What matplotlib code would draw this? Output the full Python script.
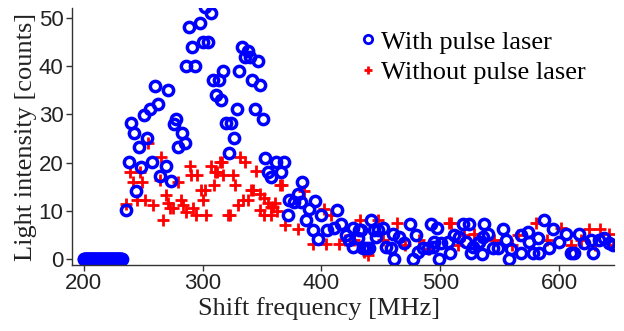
import numpy as np
import matplotlib
matplotlib.use("Agg")
import matplotlib.pyplot as plt

# data (frequency in MHz, counts)
zero_freq = [200 + 0.5 * i for i in range(65)]
zero_counts = [0] * len(zero_freq)

with_freq = [235.3, 238.1, 240.1, 242.0, 244.3, 246.5, 248.5, 250.7, 253.2, 255.5,
             257.7, 260.2, 262.5, 263.9, 268.9, 271.1, 273.7, 275.6, 277.3, 279.6,
             282.6, 284.9, 286.3, 288.5, 291.3, 293.5, 297.5, 300.5, 301.7, 304.5,
             306.7, 308.7, 310.9, 313.7, 315.7, 317.6, 319.9, 322.1, 324.1, 326.6,
             328.8, 330.5, 332.8, 335.9, 338.1, 340.1, 341.5, 344.2, 346.5, 348.5,
             350.7, 352.9, 354.9, 357.7, 361.9, 366.1, 368.1, 371.7, 373.1, 377.3,
             380.1, 382.9, 384.0, 386.6, 389.9, 392.7, 394.5, 397.4, 399.7, 404.5,
             410.5, 413.0, 416.5, 420.7, 423.5, 426.3, 426.8, 430.5, 431.9, 433.5,
             434.7, 437.6, 440.3, 441.8, 444.5, 445.9, 447.3, 451.5, 454.3, 458.5,
             459.9, 461.3, 465.5, 469.7, 474.8, 476.7, 479.6, 480.9, 485.1, 489.3,
             492.1, 493.5, 494.9, 496.9, 499.2, 500.6, 506.1, 508.1, 511.8, 516.0,
             519.0, 521.6, 524.4, 525.8, 527.1, 531.3, 532.8, 535.0, 535.6, 537.0,
             539.8, 543.9, 548.2, 552.4, 555.2, 557.4, 559.4, 567.8, 567.8, 573.4,
             574.8, 577.5, 581.8, 583.2, 587.4, 591.6, 595.0, 600.0, 605.6, 609.8,
             612.6, 616.8, 621.0, 626.6, 628.0, 633.6, 637.8, 642.0, 645.0]
with_counts = [10.2, 20.1, 28.2, 26.1, 14.1, 23.3, 19.2, 29.9, 25.2, 31.2,
               20.1, 36.0, 32.2, 17.2, 19.4, 35.1, 16.2, 28.0, 29.1, 23.2,
               26.1, 24.1, 40.0, 48.1, 44.0, 40.0, 49.0, 45.0, 52.2, 45.0,
               51.0, 37.1, 34.0, 37.1, 33.1, 39.1, 28.2, 22.1, 28.2, 25.1,
               31.1, 39.1, 44.0, 42.0, 43.2, 42.0, 37.1, 31.1, 41.1, 36.1,
               29.1, 21.0, 18.1, 17.1, 20.2, 18.1, 20.2, 9.1, 12.2, 11.9,
               13.6, 11.9, 16.0, 8.1, 10.4, 6.1, 12.0, 4.1, 9.1, 6.1,
               6.4, 10.1, 7.3, 5.1, 3.9, 2.6, 6.4, 4.3, 6.0, 6.0,
               2.2, 2.2, 2.2, 8.2, 6.0, 4.6, 6.0, 6.4, 2.6, 2.2,
               5.3, 0.1, 4.6, 3.3, 7.3, 0.1, 5.1, 1.5, 2.2, 2.2,
               7.3, 2.6, 3.6, 6.4, 0.1, 3.3, 3.6, 1.2, 5.0, 4.6,
               7.3, 3.6, 7.3, 1.2, 2.6, 3.3, 3.6, 1.0, 4.6, 7.3,
               5.2, 2.2, 2.2, 6.2, 3.9, 0.1, 2.0, 1.2, 5.0, 5.7,
               3.6, 1.2, 4.3, 1.2, 8.2, 2.2, 6.2, 3.6, 5.3, 1.2,
               1.2, 5.3, 3.3, 3.9, 1.2, 3.9, 4.3, 3.3, 3.0]

without_freq = [235.3, 238.7, 241.4, 244.8, 247.6, 249.3, 251.3, 254.0, 258.2, 263.9,
                265.3, 266.6, 269.5, 270.8, 272.3, 275.0, 279.2, 282.1, 283.5, 285.7,
                289.1, 290.5, 291.7, 294.1, 295.2, 298.9, 300.2, 301.7, 303.1, 306.7,
                309.2, 310.1, 312.4, 314.3, 316.6, 317.6, 321.3, 323.3, 325.5, 326.9,
                329.7, 331.1, 333.9, 335.3, 338.1, 340.9, 342.3, 345.1, 347.9, 348.7,
                351.3, 352.0, 354.9, 357.7, 357.7, 359.0, 360.5, 362.4, 364.7, 367.0,
                368.9, 380.1, 384.9, 392.7, 402.5, 403.9, 408.1, 414.8, 420.0, 427.0,
                432.8, 436.1, 438.9, 447.3, 452.0, 463.3, 470.0, 482.0, 490.0, 507.6,
                509.0, 515.0, 520.0, 528.6, 545.0, 560.0, 565.0, 580.4, 590.0, 601.4,
                610.0, 618.0, 625.2, 630.0, 634.2, 641.4, 645.0]
without_counts = [11.4, 18.1, 16.0, 12.2, 18.1, 16.0, 12.2, 24.0, 11.2, 16.4,
                  21.2, 8.1, 13.3, 11.6, 10.5, 10.5, 16.0, 12.2, 11.2, 9.8,
                  19.4, 17.4, 10.5, 9.1, 17.4, 14.3, 12.2, 14.3, 9.1, 19.4,
                  15.4, 18.1, 18.1, 20.2, 20.2, 17.4, 9.1, 9.1, 17.4, 15.4,
                  11.2, 21.2, 12.2, 20.2, 12.2, 14.3, 14.3, 18.3, 10.2, 13.5,
                  12.6, 9.1, 11.6, 10.9, 9.1, 10.9, 11.6, 10.0, 15.4, 15.4,
                  7.1, 6.2, 14.2, 3.1, 10.3, 3.1, 9.1, 3.1, 4.0, 4.0,
                  8.2, 1.5, 0.8, 8.1, 4.0, 7.4, 3.0, 4.0, 2.0, 7.4,
                  7.4, 3.0, 5.0, 5.3, 4.0, 3.0, 5.0, 7.4, 4.0, 6.4,
                  3.0, 4.0, 6.2, 3.0, 6.2, 5.3, 3.0]

serif = ["Liberation Serif", "DejaVu Serif"]
tick_font = ["Liberation Sans Narrow", "Liberation Sans", "DejaVu Sans"]

fig = plt.figure(figsize=(6.24, 3.31), dpi=100)
ax = fig.add_axes([0.115, 0.199, 0.869, 0.777])

circ = dict(mfc="none", mec="#0000ff", ms=7.4, mew=2.5)

# readings below threshold at the start of the sweep
ax.plot(zero_freq, zero_counts, "o", **circ)
ax.plot(without_freq, without_counts, "+", color="#ff0000", ms=8, mew=2.0,
        label="Without pulse laser")
ax.plot(with_freq, with_counts, "o", label="With pulse laser", **circ)

ax.set_xlim(190, 646)
ax.set_ylim(-1.25, 52.1)
ax.set_xticks([200, 300, 400, 500, 600])
ax.set_yticks([0, 10, 20, 30, 40, 50])

for s in ["top", "right"]:
    ax.spines[s].set_visible(False)
for s in ["left", "bottom"]:
    ax.spines[s].set_color("#333333")
    ax.spines[s].set_linewidth(1.0)

ax.tick_params(direction="out", length=4, width=1, color="#333333",
               labelcolor="#222222", pad=2)
for lab in ax.get_xticklabels() + ax.get_yticklabels():
    lab.set_family(tick_font)
    lab.set_fontsize(16)

ax.set_xlabel("Shift frequency [MHz]", family=serif, fontsize=19,
              color="#222222")
ax.xaxis.set_label_coords(0.456, -0.125)
ax.set_ylabel("Light intensity [counts]", family=serif, fontsize=19,
              color="#222222", labelpad=1)

h, l = ax.get_legend_handles_labels()
leg = ax.legend(h[::-1], l[::-1], loc="upper left", bbox_to_anchor=(0.515, 0.955),
                frameon=False, prop={"family": serif, "size": 19},
                handlelength=0.5, handletextpad=0.25, labelspacing=0.28,
                borderaxespad=0)
for hnd in leg.legend_handles:
    hnd.set_markersize(6)
    hnd.set_markeredgewidth(2.0)

fig.savefig("out.png", dpi=100)
